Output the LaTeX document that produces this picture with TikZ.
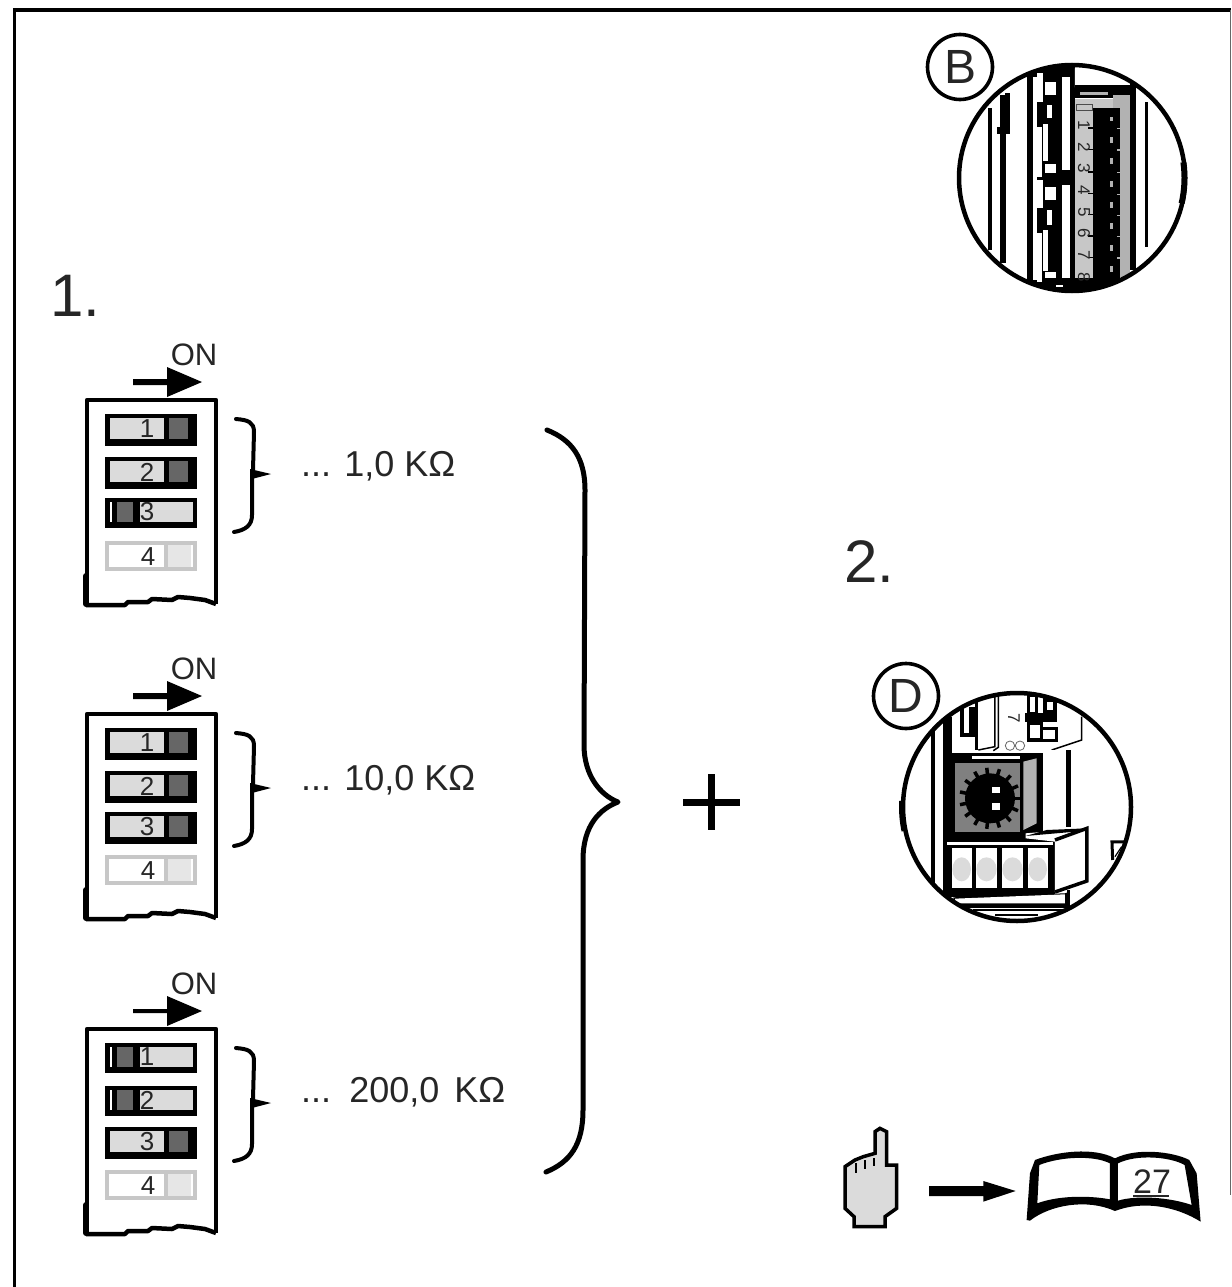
\documentclass[tikz,border=0pt]{standalone}
\usepackage{fontspec}
\setmainfont{Liberation Sans}
\newcommand{\fsz}[1]{\fontsize{#1}{#1}\selectfont}
\definecolor{lite}{gray}{0.86}
\definecolor{darksw}{gray}{0.40}
\definecolor{midg}{gray}{0.70}
\definecolor{pale}{gray}{0.78}
\definecolor{inktext}{gray}{0.15}
\tikzset{
  txt/.style={inner sep=0pt,outer sep=0pt,text=inktext},
  labelring/.style={circle,draw=black,line width=3.6pt,fill=white,minimum size=65pt,inner sep=0pt,text=inktext},
  ringline/.style={draw=black,line width=4.5pt},
  bracket/.style={draw=black,line width=4pt,line cap=round,line join=round}
}
% switch in "on" position: top, name, digit
\newcommand{\swon}[3]{%
  \fill[black] (105,#1) rectangle (197,#1+32);
  \fill[lite] (110,#1+4) rectangle (164,#1+25);
  \fill[darksw] (169,#1+4) rectangle (188,#1+25);
  \node[txt,font=\fsz{26}] (#2) at (147,#1+15) {#3};
}
% switch in "off" position
\newcommand{\swoff}[3]{%
  \fill[black] (105,#1) rectangle (197,#1+30);
  \fill[white] (110,#1+4) rectangle (112,#1+24);
  \fill[darksw] (117,#1+4) rectangle (133,#1+24);
  \fill[lite] (140,#1+4) rectangle (193,#1+24);
  \node[txt,font=\fsz{26}] (#2) at (147,#1+14) {#3};
}
% one DIP panel: offset, name prefix, three states (1=on,0=off), shaft width
\newcommand{\dipanel}[6]{%
 \begin{scope}[shift={(0,#1)}]
  \node[txt,font=\fsz{31}] (#2on) at (194,355) {ON};
  \fill[black] (133,382-#6/2) -- (167,382-#6/2) -- (167,367) -- (202,382) -- (167,397) -- (167,382+#6/2) -- (133,382+#6/2) -- cycle;
  \draw[black,line width=4.5pt,line join=round] (87,606) -- (87,400) -- (216,400) -- (216,604);
  \draw[black,line width=6pt,line cap=round] (86,576) -- (86,604);
  \draw[black,line width=4.5pt,line join=round] (86,605) -- (125,605) -- (128,602) -- (148,602) -- (152,599) -- (172,600) -- (178,597) -- (190,598) -- (205,600) -- (216,604);
  \ifnum#3=1 \swon{414}{#2a}{1}\else\swoff{414}{#2a}{1}\fi
  \ifnum#4=1 \swon{457}{#2b}{2}\else\swoff{457}{#2b}{2}\fi
  \ifnum#5=1 \swon{498}{#2c}{3}\else\swoff{498}{#2c}{3}\fi
  \fill[lite!70!white] (166,543) rectangle (191,568);
  \draw[pale,line width=4pt] (107,542.5) rectangle (195,569);
  \draw[pale,line width=4pt] (166,542) -- (166,569);
  \node[txt,font=\fsz{26}] (#2d) at (148,557) {4};
  \draw[bracket] (236,419) .. controls (248,420) and (254,422) .. (254,432) -- (253,470) -- (252,478) -- (252,515) .. controls (252,525) and (246,530) .. (234,532);
  \fill[black] (250,469) -- (271,474) -- (250,479.5) -- cycle;
 \end{scope}
}
\begin{document}
\begin{tikzpicture}[x=1pt,y=-1pt]
\useasboundingbox (0,0) rectangle (1231,1287);
\fill[white] (0,0) rectangle (1231,1287);
% frame
\draw[black,line width=3.5pt] (14.5,1287) -- (14.5,10);
\draw[black,line width=4.5pt] (12.8,10) -- (1231,10);
\draw[black!60,line width=1pt] (1230,10) -- (1230,1195);

\node[txt,anchor=base west,font=\fsz{60}] (one) at (50,316) {1.};
\node[txt,anchor=base west,font=\fsz{60}] (two) at (844,582) {2.};

\dipanel{0}{p}{1}{1}{0}{6}
\dipanel{314}{q}{1}{1}{1}{6}
\dipanel{629}{r}{0}{0}{1}{4}

\node[txt,anchor=base west,font=\fsz{36}] (va) at (301,476) {... 1,0 KΩ};
\node[txt,anchor=base west,font=\fsz{36}] (vb) at (301,790) {... 10,0 KΩ};
\node[txt,anchor=base west,font=\fsz{36}] (vc) at (301,1102) {...\hspace{5pt} 200,0\hspace{5pt} KΩ};

% big brace
\draw[black,line width=5pt,line cap=round,line join=round]
  (547,430) .. controls (572,440) and (585,458) .. (585,490)
  -- (584,745) .. controls (584,775) and (600,795) .. (618,802)
  .. controls (600,809) and (583,825) .. (583,860)
  -- (583,1110) .. controls (583,1145) and (570,1162) .. (546,1172);
% plus
\fill[black] (683,799) rectangle (740,805.5);
\fill[black] (708,774) rectangle (714.5,830);

% ---------- detail B ----------
\begin{scope}
 \clip (1072,178) circle (114);
 \begin{scope}[shift={(900,30)},x=0.3333pt,y=-0.3333pt]
  \fill[black] (265,235) rectangle (275,660);
  \fill[black] (300,195) rectangle (318,700);
  \fill[black] (290,290) rectangle (330,312);
  \fill[black] (315,190) rectangle (330,300);
  \fill[black] (380,100) rectangle (525,790);
  \fill[white] (398,140) rectangle (410,750);
  \fill[white] (412,130) rectangle (430,215);
  \fill[white] (435,155) rectangle (468,195);
  \fill[white] (440,225) rectangle (455,265);
  \fill[white] (412,290) rectangle (425,440);
  \fill[white] (430,282) rectangle (445,392);
  \fill[white] (435,402) rectangle (468,428);
  \fill[white] (485,140) rectangle (510,420);
  \fill[white] (412,450) rectangle (430,535);
  \fill[white] (435,472) rectangle (468,510);
  \fill[white] (440,540) rectangle (455,585);
  \fill[white] (412,610) rectangle (425,755);
  \fill[white] (430,600) rectangle (445,722);
  \fill[white] (435,726) rectangle (468,745);
  \fill[white] (485,465) rectangle (510,745);
  \fill[white] (468,765) rectangle (490,770);
  % top plate
  \fill[white] (525,115) -- (665,165) -- (525,172) -- cycle;
  \fill[black] (525,165) rectangle (705,205);
  \fill[midg] (540,187) rectangle (625,195);
  % number strip
  \fill[pale] (525,208) rectangle (640,745);
  \fill[midg] (640,195) rectangle (690,740);
  \fill[black] (690,160) rectangle (708,720);
  \fill[black] (735,215) rectangle (745,650);
  \fill[black] (520,745) rectangle (800,800);
  % switch bank
  \fill[black] (578,235) rectangle (660,745);
  \fill[midg] (630,262) rectangle (640,272);
  \foreach \y in {298,362,430,495,558,622,686}{
    \fill[midg] (650,\y-4) rectangle (660,\y);
    \fill[black] (565,\y-6) rectangle (580,\y-2);
    \fill[midg] (630,\y+22) rectangle (640,\y+40);
  }
  \draw[black!70,line width=0.8pt] (530,222) rectangle (578,240);
 \end{scope}
 \foreach \t/\yy/\nm in {1/125/ba,2/147/bb,3/168/bc,4/190/bd,5/212/be,6/233/bf,7/255/bg,8/277/bh}{
   \node[txt,font=\fsz{17},rotate=-90] (\nm) at (1084,\yy) {\t};
 }
\end{scope}
\draw[ringline] (1072,178) circle (113);
\draw[black,line width=6pt] (1072,178) ++(-8:112.5) arc (-8:13:112.5);
\node[labelring,font=\fsz{48}] (labB) at (960,67) {B};

% ---------- detail D ----------
\begin{scope}
 \clip (1017,807) circle (115);
 \begin{scope}[shift={(860,660)},x=0.3333pt,y=-0.3333pt]
  \fill[black] (213,200) rectangle (225,680);
  \fill[black] (250,170) rectangle (275,700);
  % top
  \fill[black] (300,140) rectangle (345,230);
  \fill[white] (312,140) rectangle (328,220);
  \fill[black] (345,100) rectangle (355,270);
  \draw[black,line width=1.5pt] (405,100) -- (405,260) -- (355,270);
  \draw[black,line width=1.5pt] (415,95) -- (415,262) -- (400,272);
  \draw[black,line width=1.5pt] (575,270) -- (665,240) -- (665,170);
  % small dip
  \draw[black,line width=3.5pt] (505,105) rectangle (530,160);
  \draw[black,line width=3.5pt] (555,120) rectangle (585,155);
  \fill[black] (495,160) rectangle (590,185);
  \draw[black,line width=3.5pt] (505,190) rectangle (545,240);
  \draw[black,line width=3.5pt] (545,205) rectangle (590,242);
  % dial box
  \fill[black] (270,280) rectangle (550,545);
  \fill[white] (335,289) rectangle (480,296);
  \fill[black!50] (285,310) rectangle (480,515);
  \fill[midg] (490,305) -- (530,295) -- (530,490) -- (490,510) -- cycle;
  \fill[white] (552,270) rectangle (618,500);
  \fill[black] (618,270) rectangle (632,500);
  % dial
  \fill[black] (390,415) circle (75);
  \foreach \a in {0,24,...,336}{
    \draw[black,line width=3.5pt] (390,415) -- ++(\a:92);
  }
  \fill[white] (396,382) rectangle (420,400);
  \fill[white] (396,430) rectangle (420,450);
  % terminals
  \fill[black] (255,540) rectangle (585,712);
  \fill[white] (262,547) rectangle (578,555);
  \foreach \xa/\xb in {275/335,347/412,425/490,503/563}{
    \fill[white] (\xa,565) rectangle (\xb,685);
    \fill[lite] ({(\xa+\xb)/2},628) ellipse ({(\xb-\xa)/2-2} and 36);
  }
  % side block
  \fill[white] (497,520) -- (681,505) -- (681,663) -- (585,696) -- (585,545) -- (497,535) -- cycle;
  \draw[black,line width=3.5pt,line join=miter] (585,540) -- (681,505) -- (681,663) -- (585,696);
  \fill[black] (497,528) -- (681,512) -- (681,505) -- (560,510) -- cycle;
  % bottom rails
  \fill[black] (280,712) -- (615,700) -- (630,695) -- (630,735) -- (280,735) -- cycle;
  \fill[white] (285,716) -- (615,703) -- (615,730) -- (285,730) -- cycle;
  \fill[black] (622,690) rectangle (630,745);
  \fill[black] (290,735) rectangle (630,745);
  \fill[black] (340,748) rectangle (605,752);
  \fill[black] (405,762) rectangle (535,768);
  % small tab
  \draw[black,line width=3pt] (758,600) -- (756,546) -- (795,546);
  \draw[black,line width=1.2pt] (765,590) -- (785,560);
  % mini circles
  \draw[black!60,line width=0.8pt] (450,257) circle (14);
  \draw[black!60,line width=0.8pt] (480,257) circle (14);
 \end{scope}
 \node[txt,font=\fsz{17},rotate=-90] (dseven) at (1014,718) {7};
\end{scope}
\draw[ringline] (1017,807) circle (114);
\draw[black,line width=5pt] (1017,807) ++(168:115.5) arc (168:183:115.5);
\node[labelring,font=\fsz{48}] (labD) at (906,696) {D};

% ---------- hand, arrow, book ----------
\begin{scope}[shift={(830,1110)},x=0.3333pt,y=-0.3333pt]
  \draw[black,fill=lite,line width=3.5pt,line join=miter]
    (135,130) -- (135,65) -- (150,55) -- (170,65) -- (170,165) -- (200,165) -- (200,295) -- (165,320) -- (165,350) -- (72,350) -- (72,320) -- (45,295) -- (45,170) -- (75,150) -- (100,140) -- cycle;
  \draw[black,line width=2.5pt] (78,160) -- (78,190);
  \draw[black,line width=2.5pt] (105,150) -- (105,178);
  \draw[black,line width=2.5pt] (132,145) -- (132,168);
  \fill[black] (297,228) -- (460,228) -- (460,213) -- (557,243) -- (460,275) -- (460,258) -- (297,258) -- cycle;
  \fill[black,even odd rule]
    (590,330) -- (600,190) -- (615,150) .. controls (680,125) and (790,110) .. (855,145)
    .. controls (920,112) and (1030,125) .. (1078,150) -- (1100,190) -- (1112,335)
    .. controls (1040,290) and (940,270) .. (855,303) .. controls (770,265) and (660,285) .. (600,332) -- cycle
    (628,165) .. controls (690,140) and (790,135) .. (840,160) -- (840,268)
    .. controls (770,255) and (680,258) .. (622,280) -- cycle
    (864,160) .. controls (920,132) and (1020,140) .. (1064,165) -- (1085,285)
    .. controls (1020,262) and (920,255) .. (864,272) -- cycle;
\end{scope}
\node[txt,font=\fsz{34}] (page) at (1152,1182) {27};
\draw[inktext,line width=1.5pt] (1133,1196) -- (1169,1196);
\end{tikzpicture}
\end{document}
